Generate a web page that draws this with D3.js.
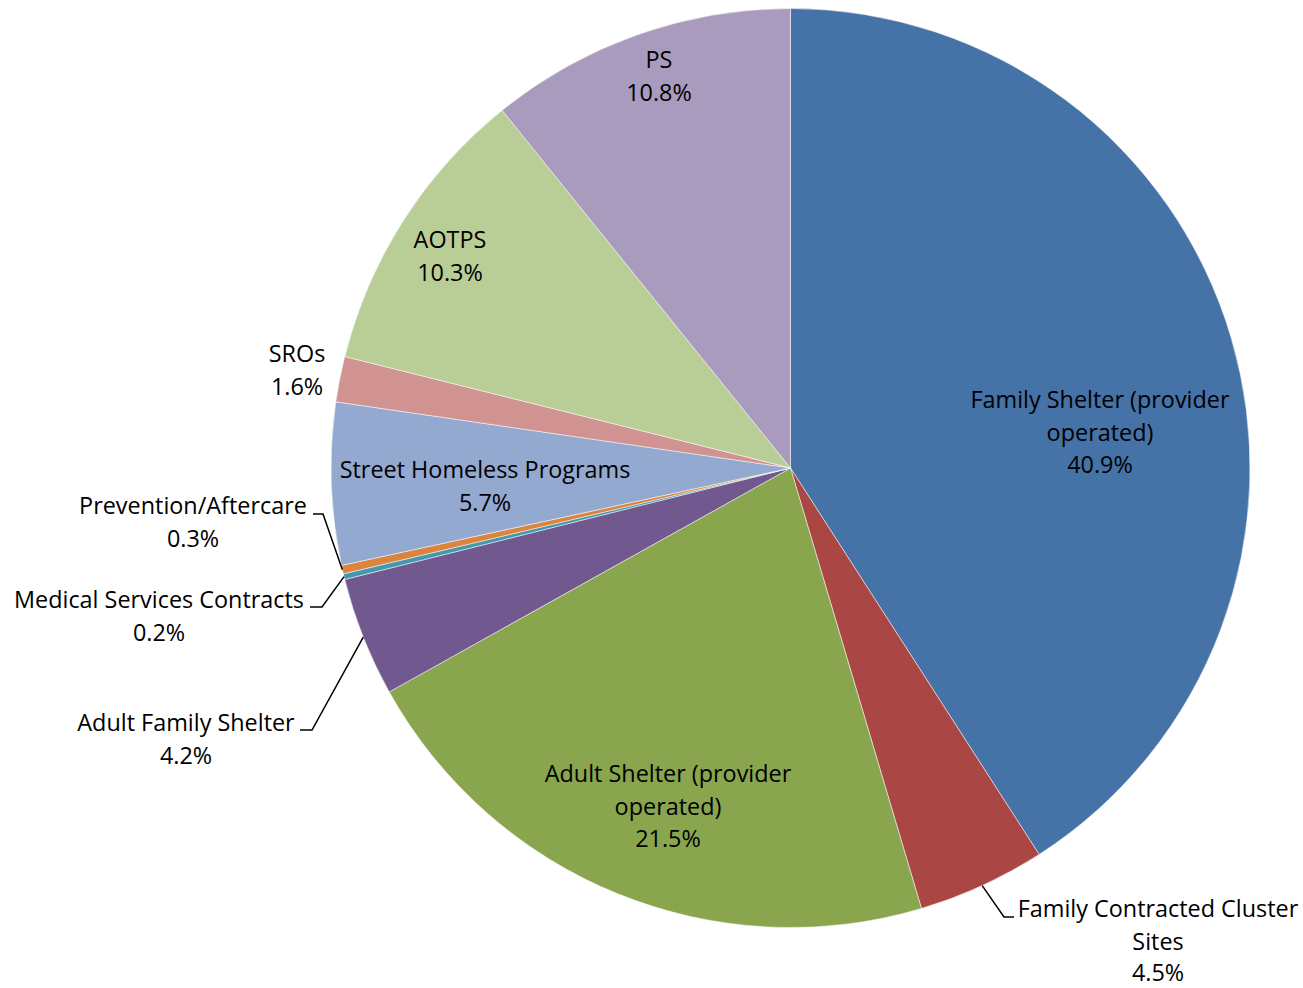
<!DOCTYPE html>
<html>
<head>
<meta charset="utf-8">
<script src="https://cdn.jsdelivr.net/npm/d3@7"></script>
<style>
  body { margin: 0; background: #fff; }
  svg text { font-family: "Open Sans", Lato, sans-serif; fill: #000; }
</style>
</head>
<body>
<div id="chart"></div>
<script>
// budget share by program area (percent)
var categories = ["Family Shelter (provider operated)", "Family Contracted Cluster Sites",
  "Adult Shelter (provider operated)", "Adult Family Shelter", "Medical Services Contracts",
  "Prevention/Aftercare", "Street Homeless Programs", "SROs", "AOTPS", "PS"];
var values = [40.9, 4.5, 21.5, 4.2, 0.2, 0.3, 5.7, 1.6, 10.3, 10.8];
var valueLabels = ["40.9%", "4.5%", "21.5%", "4.2%", "0.2%", "0.3%", "5.7%", "1.6%", "10.3%", "10.8%"];
var colors = ["#4572A7", "#AA4643", "#89A54E", "#71588F", "#4198AF",
  "#DB843D", "#93A9CF", "#D19392", "#B9CD96", "#A99BBD"];

// label placement (Excel best fit), lines of text, optional leader elbow
var labelLayout = [
  {x: 1100, y: 400, lines: ["Family Shelter (provider", "operated)"]},
  {x: 1158, y: 909, lines: ["Family Contracted Cluster", "Sites"], elbow: [1004, 917], end: [1014, 917]},
  {x: 668, y: 774, lines: ["Adult Shelter (provider", "operated)"]},
  {x: 186, y: 723, lines: ["Adult Family Shelter"], elbow: [312, 730], end: [300, 730]},
  {x: 159, y: 600, lines: ["Medical Services Contracts"], elbow: [322, 607], end: [310, 607]},
  {x: 193, y: 506, lines: ["Prevention/Aftercare"], elbow: [323, 514], end: [313, 514]},
  {x: 485, y: 470, lines: ["Street Homeless Programs"]},
  {x: 297, y: 354, lines: ["SROs"]},
  {x: 450, y: 240, lines: ["AOTPS"]},
  {x: 659, y: 60, lines: ["PS"]}
];

var W = 1303, H = 988;
var cx = 790.5, cy = 468, R = 459.5;
var lineH = 32.5;

var svg = d3.select("#chart").append("svg")
  .attr("width", W)
  .attr("height", H);

var pie = d3.pie().sort(null).value(function(d){ return d; });
var arcs = pie(values);
var arc = d3.arc().innerRadius(0).outerRadius(R);

var g = svg.append("g").attr("transform", "translate(" + cx + "," + cy + ")");

g.selectAll("path.slice")
  .data(arcs)
  .enter().append("path")
  .attr("class", "slice")
  .attr("d", arc)
  .attr("fill", function(d, i){ return colors[i]; })
  .attr("stroke", "#fff")
  .attr("stroke-width", 0.5);

// leader lines for the small / outside slices
arcs.forEach(function(d, i){
  var lay = labelLayout[i];
  if (!lay.elbow) return;
  var a = (d.startAngle + d.endAngle) / 2;
  var sx = cx + R * Math.sin(a), sy = cy - R * Math.cos(a);
  svg.append("polyline")
    .attr("points", [[sx, sy], lay.elbow, lay.end].map(function(p){ return p.join(","); }).join(" "))
    .attr("fill", "none")
    .attr("stroke", "#000")
    .attr("stroke-width", 1.5);
});

// data labels: category + percent
labelLayout.forEach(function(lay, i){
  var lines = lay.lines.concat([valueLabels[i]]);
  var t = svg.append("text")
    .attr("text-anchor", "middle")
    .attr("font-size", "23.4px");
  lines.forEach(function(s, k){
    t.append("tspan")
      .attr("x", lay.x)
      .attr("y", lay.y + k * (k == 2 && i == 1 ? 32 : lineH))
      .attr("dy", "0.36em")
      .text(s);
  });
});
</script>
</body>
</html>
